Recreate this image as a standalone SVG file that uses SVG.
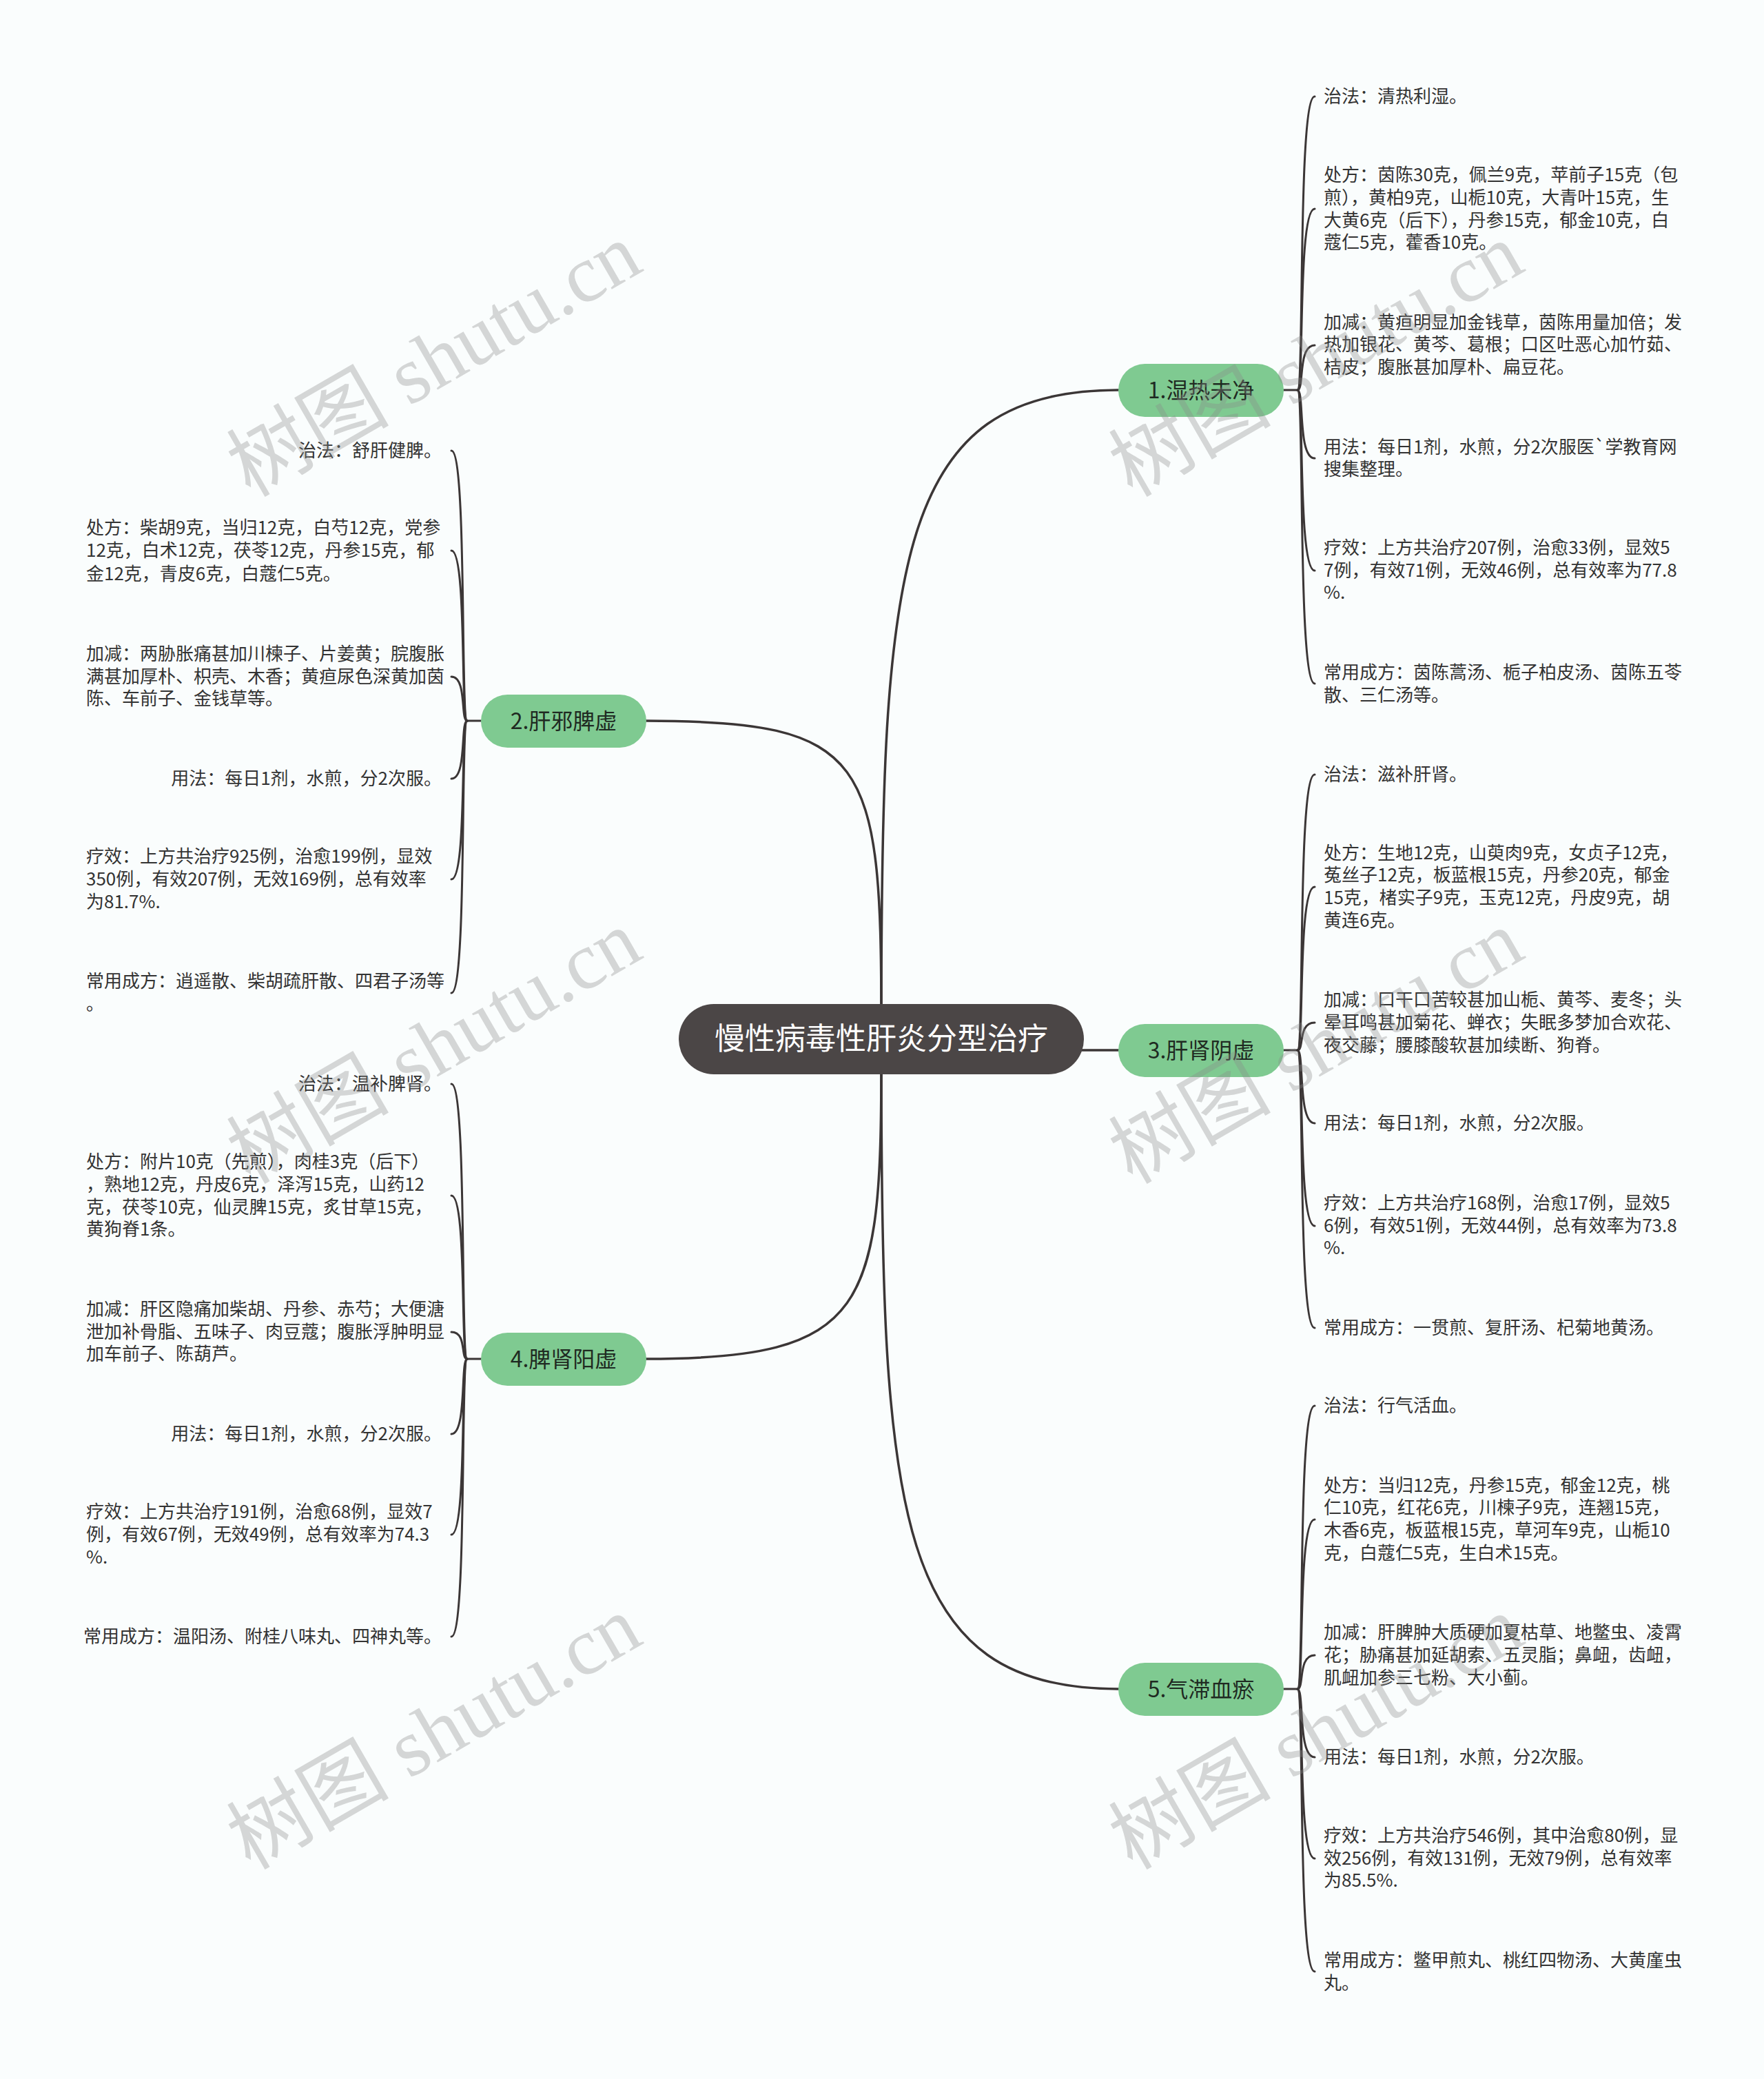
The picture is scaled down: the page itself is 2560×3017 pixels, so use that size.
<svg xmlns="http://www.w3.org/2000/svg" width="2560" height="3017" viewBox="0 0 2560 3017">
<style>
.bg{fill:#fafdfd}
.main{fill:none;stroke:#3b3636;stroke-width:3.5;stroke-linecap:round}
.sub{fill:none;stroke:#3b3636;stroke-width:3;stroke-linecap:round}
.root rect{fill:#4b4646}
.root text{fill:#ffffff;font-family:"Noto Sans CJK SC","Noto Sans",sans-serif;font-size:44px;text-anchor:middle}
.br rect{fill:#7fca91}
.br text{fill:#1f2a22;font-family:"Noto Sans CJK SC","Noto Sans",sans-serif;font-size:32px;text-anchor:middle}
.t{fill:#333333;font-family:"Noto Sans CJK SC","Noto Sans",sans-serif;font-size:26px}
.r{text-anchor:end}
.wm{fill:#8a8a8a;fill-opacity:0.34;font-family:"Liberation Serif","Noto Sans CJK SC",serif;font-size:118px;text-anchor:middle}
</style>
<rect class="bg" x="0" y="0" width="2560" height="3017"/>

<g id="connectors">
  <path class="main" d="M1279,1480 C1279,815 1300,566 1623,566"/>
  <path class="main" d="M1279,1480 C1279,1100 1260,1046 937,1046"/>
  <path class="main" d="M1279,1540 C1279,1900 1260,1972 937,1972"/>
  <path class="main" d="M1279,1540 C1279,2200 1300,2451 1623,2451"/>
  <path class="main" d="M1560,1524 H1623"/>
  <path class="sub" d="M1863,566 H1883"/>
  <path class="sub" d="M1883,566 C1893,566 1883,140 1908,140"/>
  <path class="sub" d="M1883,566 C1893,566 1883,303 1908,303"/>
  <path class="sub" d="M1883,566 C1893,566 1883,501 1908,501"/>
  <path class="sub" d="M1883,566 C1893,566 1883,665 1908,665"/>
  <path class="sub" d="M1883,566 C1893,566 1883,828 1908,828"/>
  <path class="sub" d="M1883,566 C1893,566 1883,992 1908,992"/>
  <path class="sub" d="M1863,1524 H1883"/>
  <path class="sub" d="M1883,1524 C1893,1524 1883,1124 1908,1124"/>
  <path class="sub" d="M1883,1524 C1893,1524 1883,1287 1908,1287"/>
  <path class="sub" d="M1883,1524 C1893,1524 1883,1484 1908,1484"/>
  <path class="sub" d="M1883,1524 C1893,1524 1883,1630 1908,1630"/>
  <path class="sub" d="M1883,1524 C1893,1524 1883,1779 1908,1779"/>
  <path class="sub" d="M1883,1524 C1893,1524 1883,1927 1908,1927"/>
  <path class="sub" d="M1863,2451 H1883"/>
  <path class="sub" d="M1883,2451 C1893,2451 1883,2040 1908,2040"/>
  <path class="sub" d="M1883,2451 C1893,2451 1883,2205 1908,2205"/>
  <path class="sub" d="M1883,2451 C1893,2451 1883,2402 1908,2402"/>
  <path class="sub" d="M1883,2451 C1893,2451 1883,2550 1908,2550"/>
  <path class="sub" d="M1883,2451 C1893,2451 1883,2697 1908,2697"/>
  <path class="sub" d="M1883,2451 C1893,2451 1883,2861 1908,2861"/>
  <path class="sub" d="M698,1046 H678"/>
  <path class="sub" d="M678,1046 C668,1046 678,654 655,654"/>
  <path class="sub" d="M678,1046 C668,1046 678,799 655,799"/>
  <path class="sub" d="M678,1046 C668,1046 678,982 655,982"/>
  <path class="sub" d="M678,1046 C668,1046 678,1130 655,1130"/>
  <path class="sub" d="M678,1046 C668,1046 678,1276 655,1276"/>
  <path class="sub" d="M678,1046 C668,1046 678,1441 655,1441"/>
  <path class="sub" d="M698,1972 H678"/>
  <path class="sub" d="M678,1972 C668,1972 678,1573 655,1573"/>
  <path class="sub" d="M678,1972 C668,1972 678,1735 655,1735"/>
  <path class="sub" d="M678,1972 C668,1972 678,1933 655,1933"/>
  <path class="sub" d="M678,1972 C668,1972 678,2081 655,2081"/>
  <path class="sub" d="M678,1972 C668,1972 678,2227 655,2227"/>
  <path class="sub" d="M678,1972 C668,1972 678,2375 655,2375"/>
</g>

<g id="root" class="root">
  <rect x="985" y="1457" width="588" height="102" rx="51"/>
  <text x="1279" y="1523">慢性病毒性肝炎分型治疗</text>
</g>

<g id="n1" class="br">
  <rect x="1623" y="528" width="240" height="77" rx="38.5"/>
  <text x="1743" y="578">1.湿热未净</text>
</g>
<g id="n2" class="br">
  <rect x="698" y="1008" width="240" height="77" rx="38.5"/>
  <text x="818" y="1058">2.肝邪脾虚</text>
</g>
<g id="n3" class="br">
  <rect x="1623" y="1486" width="240" height="77" rx="38.5"/>
  <text x="1743" y="1536">3.肝肾阴虚</text>
</g>
<g id="n4" class="br">
  <rect x="698" y="1934" width="240" height="77" rx="38.5"/>
  <text x="818" y="1984">4.脾肾阳虚</text>
</g>
<g id="n5" class="br">
  <rect x="1623" y="2413" width="240" height="77" rx="38.5"/>
  <text x="1743" y="2463">5.气滞血瘀</text>
</g>

<g id="n1-children">
  <text class="t" x="1921" y="149">治法：清热利湿。</text>
  <text class="t"><tspan x="1921" y="263">处方：茵陈30克，佩兰9克，苹前子15克（包</tspan><tspan x="1921" y="296">煎），黄柏9克，山栀10克，大青叶15克，生</tspan><tspan x="1921" y="329">大黄6克（后下），丹参15克，郁金10克，白</tspan><tspan x="1921" y="361">蔻仁5克，藿香10克。</tspan></text>
  <text class="t"><tspan x="1921" y="477">加减：黄疸明显加金钱草，茵陈用量加倍；发</tspan><tspan x="1921" y="509">热加银花、黄芩、葛根；口区吐恶心加竹茹、</tspan><tspan x="1921" y="542">桔皮；腹胀甚加厚朴、扁豆花。</tspan></text>
  <text class="t"><tspan x="1921" y="658">用法：每日1剂，水煎，分2次服医`学教育网</tspan><tspan x="1921" y="690">搜集整理。</tspan></text>
  <text class="t"><tspan x="1921" y="804">疗效：上方共治疗207例，治愈33例，显效5</tspan><tspan x="1921" y="837">7例，有效71例，无效46例，总有效率为77.8</tspan><tspan x="1921" y="869">%.</tspan></text>
  <text class="t"><tspan x="1921" y="985">常用成方：茵陈蒿汤、栀子柏皮汤、茵陈五苓</tspan><tspan x="1921" y="1018">散、三仁汤等。</tspan></text>
</g>

<g id="n3-children">
  <text class="t" x="1921" y="1133">治法：滋补肝肾。</text>
  <text class="t"><tspan x="1921" y="1247">处方：生地12克，山萸肉9克，女贞子12克，</tspan><tspan x="1921" y="1279">菟丝子12克，板蓝根15克，丹参20克，郁金</tspan><tspan x="1921" y="1312">15克，楮实子9克，玉克12克，丹皮9克，胡</tspan><tspan x="1921" y="1345">黄连6克。</tspan></text>
  <text class="t"><tspan x="1921" y="1460">加减：口干口苦较甚加山栀、黄芩、麦冬；头</tspan><tspan x="1921" y="1493">晕耳鸣甚加菊花、蝉衣；失眠多梦加合欢花、</tspan><tspan x="1921" y="1526">夜交藤；腰膝酸软甚加续断、狗脊。</tspan></text>
  <text class="t" x="1921" y="1639">用法：每日1剂，水煎，分2次服。</text>
  <text class="t"><tspan x="1921" y="1755">疗效：上方共治疗168例，治愈17例，显效5</tspan><tspan x="1921" y="1788">6例，有效51例，无效44例，总有效率为73.8</tspan><tspan x="1921" y="1820">%.</tspan></text>
  <text class="t" x="1921" y="1936">常用成方：一贯煎、复肝汤、杞菊地黄汤。</text>
</g>

<g id="n5-children">
  <text class="t" x="1921" y="2049">治法：行气活血。</text>
  <text class="t"><tspan x="1921" y="2165">处方：当归12克，丹参15克，郁金12克，桃</tspan><tspan x="1921" y="2197">仁10克，红花6克，川楝子9克，连翘15克，</tspan><tspan x="1921" y="2230">木香6克，板蓝根15克，草河车9克，山栀10</tspan><tspan x="1921" y="2263">克，白蔻仁5克，生白术15克。</tspan></text>
  <text class="t"><tspan x="1921" y="2378">加减：肝脾肿大质硬加夏枯草、地鳖虫、凌霄</tspan><tspan x="1921" y="2411">花；胁痛甚加延胡索、五灵脂；鼻衄，齿衄，</tspan><tspan x="1921" y="2444">肌衄加参三七粉、大小蓟。</tspan></text>
  <text class="t" x="1921" y="2559">用法：每日1剂，水煎，分2次服。</text>
  <text class="t"><tspan x="1921" y="2673">疗效：上方共治疗546例，其中治愈80例，显</tspan><tspan x="1921" y="2706">效256例，有效131例，无效79例，总有效率</tspan><tspan x="1921" y="2738">为85.5%.</tspan></text>
  <text class="t"><tspan x="1921" y="2854">常用成方：鳖甲煎丸、桃红四物汤、大黄廑虫</tspan><tspan x="1921" y="2887">丸。</tspan></text>
</g>

<g id="n2-children">
  <text class="t r" x="641" y="663">治法：舒肝健脾。</text>
  <text class="t"><tspan x="125" y="775">处方：柴胡9克，当归12克，白芍12克，党参</tspan><tspan x="125" y="808">12克，白术12克，茯苓12克，丹参15克，郁</tspan><tspan x="125" y="842">金12克，青皮6克，白蔻仁5克。</tspan></text>
  <text class="t"><tspan x="125" y="958">加减：两胁胀痛甚加川楝子、片姜黄；脘腹胀</tspan><tspan x="125" y="991">满甚加厚朴、枳壳、木香；黄疸尿色深黄加茵</tspan><tspan x="125" y="1023">陈、车前子、金钱草等。</tspan></text>
  <text class="t r" x="641" y="1139">用法：每日1剂，水煎，分2次服。</text>
  <text class="t"><tspan x="125" y="1252">疗效：上方共治疗925例，治愈199例，显效</tspan><tspan x="125" y="1285">350例，有效207例，无效169例，总有效率</tspan><tspan x="125" y="1318">为81.7%.</tspan></text>
  <text class="t"><tspan x="125" y="1433">常用成方：逍遥散、柴胡疏肝散、四君子汤等</tspan><tspan x="125" y="1466">。</tspan></text>
</g>

<g id="n4-children">
  <text class="t r" x="641" y="1582">治法：温补脾肾。</text>
  <text class="t"><tspan x="125" y="1695">处方：附片10克（先煎），肉桂3克（后下）</tspan><tspan x="125" y="1728">，熟地12克，丹皮6克，泽泻15克，山药12</tspan><tspan x="125" y="1761">克，茯苓10克，仙灵脾15克，炙甘草15克，</tspan><tspan x="125" y="1793">黄狗脊1条。</tspan></text>
  <text class="t"><tspan x="125" y="1909">加减：肝区隐痛加柴胡、丹参、赤芍；大便溏</tspan><tspan x="125" y="1942">泄加补骨脂、五味子、肉豆蔻；腹胀浮肿明显</tspan><tspan x="125" y="1974">加车前子、陈葫芦。</tspan></text>
  <text class="t r" x="641" y="2090">用法：每日1剂，水煎，分2次服。</text>
  <text class="t"><tspan x="125" y="2203">疗效：上方共治疗191例，治愈68例，显效7</tspan><tspan x="125" y="2236">例，有效67例，无效49例，总有效率为74.3</tspan><tspan x="125" y="2269">%.</tspan></text>
  <text class="t r" x="641" y="2384">常用成方：温阳汤、附桂八味丸、四神丸等。</text>
</g>

<g id="watermark">
  <text class="wm" x="650" y="557" transform="rotate(-30 650 557)">树图 shutu.cn</text>
  <text class="wm" x="1930" y="557" transform="rotate(-30 1930 557)">树图 shutu.cn</text>
  <text class="wm" x="650" y="1554" transform="rotate(-30 650 1554)">树图 shutu.cn</text>
  <text class="wm" x="1930" y="1554" transform="rotate(-30 1930 1554)">树图 shutu.cn</text>
  <text class="wm" x="650" y="2549" transform="rotate(-30 650 2549)">树图 shutu.cn</text>
  <text class="wm" x="1930" y="2549" transform="rotate(-30 1930 2549)">树图 shutu.cn</text>
</g>
</svg>
